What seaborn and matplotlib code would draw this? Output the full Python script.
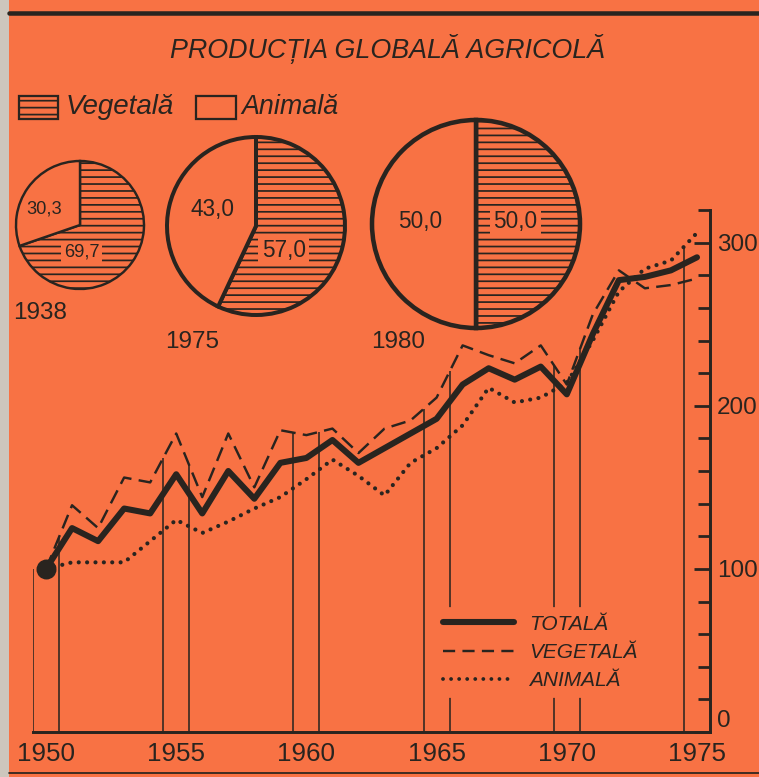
import numpy as np
import pandas as pd
import matplotlib
matplotlib.use("Agg")
import matplotlib.pyplot as plt
from matplotlib.lines import Line2D
from matplotlib.patches import Rectangle
from matplotlib.ticker import FixedLocator, MultipleLocator
import seaborn as sns

# Indici productie agricola (1950 = 100)
years = list(range(1950, 1976))
totala = [100, 125, 117, 137, 134, 158, 134, 160, 143, 165, 168, 179, 165,
          174, 183, 192, 213, 223, 216, 224, 207, 244, 277, 279, 283, 291]
vegetala = [100, 139, 125, 156, 153, 183, 144, 183, 150, 185, 182, 186, 171,
            186, 191, 205, 237, 231, 226, 237, 213, 256, 283, 272, 274, 278]
animala = [100, 104, 104, 104, 117, 130, 122, 129, 137, 144, 155, 167, 157,
           145, 165, 174, 188, 211, 202, 205, 214, 240, 270, 284, 289, 306]
series_names = ["TOTALĂ", "VEGETALĂ", "ANIMALĂ"]
labeled_years = [1950, 1955, 1960, 1965, 1970, 1975]
y_labels = [0, 100, 200, 300]

# Structura productiei (%)
pie_years = ["1938", "1975", "1980"]
pie_vegetala = [69.7, 57.0, 50.0]
pie_animala = [30.3, 43.0, 50.0]

bg = "#f87244"
ink = "#29241f"

sns.set_theme(style="white")
plt.rcParams["font.family"] = ["Liberation Sans", "DejaVu Sans"]
plt.rcParams["hatch.linewidth"] = 1.0

W, H, DPI = 759, 777, 125
fig = plt.figure(figsize=(W / DPI, H / DPI), dpi=DPI, facecolor=bg)


def px_box(x0, y0, x1, y1):
    # pixel box (origin top-left) -> figure fraction rect
    return [x0 / W, 1 - y1 / H, (x1 - x0) / W, (y1 - y0) / H]


def fx(x):
    return x / W


def fy(y):
    return 1 - y / H


# ---------------------------------------
# Line chart
# ---------------------------------------
df = pd.DataFrame({
    "an": years * 3,
    "indice": totala + vegetala + animala,
    "serie": np.repeat(series_names, len(years)),
})

ax = fig.add_axes(px_box(33, 210, 710, 732))
ax.patch.set_alpha(0)

sns.lineplot(data=df[df.serie == "TOTALĂ"], x="an", y="indice", ax=ax,
             color=ink, lw=3.5, solid_joinstyle="round", solid_capstyle="round",
             estimator=None, zorder=4)
sns.lineplot(data=df[df.serie == "VEGETALĂ"], x="an", y="indice", ax=ax,
             color=ink, lw=1.4, linestyle=(0, (6, 3)), estimator=None, zorder=3)
sns.lineplot(data=df[df.serie == "ANIMALĂ"], x="an", y="indice", ax=ax,
             color=ink, lw=2.4, linestyle=(0, (0.01, 2.0)),
             dash_capstyle="round", estimator=None, zorder=3)
ax.plot(years[0], totala[0], "o", ms=10.5, color=ink, zorder=5)

# tall lines bounding the labelled years
edges = []
for yr in labeled_years:
    edges.append(yr - 0.5)
    if yr != labeled_years[-1]:
        edges.append(yr + 0.5)
tops = [max(np.interp(e, years, s) for s in (totala, vegetala, animala)) for e in edges]
ax.vlines(edges, 0, tops, color=ink, lw=0.9, zorder=2)

ax.set_xlim(1949.5, 1975.5)
ax.set_ylim(0, 320)
ax.set_xlabel("")
ax.set_ylabel("")
for side in ["left", "top"]:
    ax.spines[side].set_visible(False)
for side in ["right", "bottom"]:
    ax.spines[side].set_color(ink)
    ax.spines[side].set_linewidth(1.7)

ax.yaxis.tick_right()
ax.yaxis.set_major_locator(FixedLocator(y_labels))
ax.yaxis.set_minor_locator(MultipleLocator(20))
ax.tick_params(axis="y", which="major", direction="in", length=9, width=1.6,
               colors=ink, labelsize=14, pad=4)
ax.tick_params(axis="y", which="minor", direction="in", length=7, width=1.6, colors=ink)
ax.yaxis.get_major_ticks()[0].label2.set_verticalalignment("bottom")

ax.xaxis.set_major_locator(FixedLocator(labeled_years))
ax.xaxis.set_minor_locator(MultipleLocator(1, offset=0.5))
ax.tick_params(axis="x", which="major", length=0, colors=ink, labelsize=15, pad=6)
ax.tick_params(axis="x", which="minor", direction="in", length=6, width=1.4, colors=ink)

handles = [
    Line2D([], [], color=ink, lw=3.5),
    Line2D([], [], color=ink, lw=1.4, linestyle=(0, (5, 3))),
    Line2D([], [], color=ink, lw=2.2, linestyle=(0, (0.01, 2.1)), dash_capstyle="round"),
]
leg = ax.legend(handles, series_names, loc="upper left",
                bbox_to_anchor=((426 - 33) / 677, (732 - 598) / 522),
                frameon=True, facecolor=bg, edgecolor=bg, framealpha=1,
                fancybox=False, handlelength=3.4, handletextpad=0.75,
                labelspacing=0.45, borderpad=0.3,
                prop={"style": "italic", "size": 12})
for t in leg.get_texts():
    t.set_color(ink)

# ---------------------------------------
# Pies
# ---------------------------------------
pie_geom = [(80, 225, 64, 1.4), (256, 226, 89, 2.3), (476, 224, 104, 2.6)]
label_pos = [((-0.56, 0.25), (0.03, -0.42)),
             ((-0.49, 0.18), (0.31, -0.27)),
             ((-0.54, 0.02), (0.38, 0.02))]
year_pos = [(40, 313), (192, 342), (398, 342)]

for i, (cx, cy, r, lw) in enumerate(pie_geom):
    half = r * 1.05
    pax = fig.add_axes(px_box(cx - half, cy - half, cx + half, cy + half))
    pax.pie([pie_vegetala[i], pie_animala[i]], startangle=90, counterclock=False,
            colors=[bg, bg], hatch=["---", ""],
            wedgeprops={"edgecolor": ink, "linewidth": lw})
    pax.set_xlim(-1.05, 1.05)
    pax.set_ylim(-1.05, 1.05)
    pax.set_aspect("equal")
    (ax_a, ay_a), (ax_v, ay_v) = label_pos[i]
    fs = 10.5 if i == 0 else 13
    pax.text(ax_a, ay_a, f"{pie_animala[i]:.1f}".replace(".", ","), ha="center",
             va="center", fontsize=fs, color=ink)
    pax.text(ax_v, ay_v, f"{pie_vegetala[i]:.1f}".replace(".", ","), ha="center",
             va="center", fontsize=fs, color=ink,
             bbox={"boxstyle": "square,pad=0.15", "fc": bg, "ec": "none"})
    fig.text(fx(year_pos[i][0]), fy(year_pos[i][1]), pie_years[i], ha="center",
             va="center", fontsize=14, color=ink)

# ---------------------------------------
# Title, legend of pies, frame
# ---------------------------------------
fig.text(fx(388), fy(49), "PRODUCȚIA GLOBALĂ AGRICOLĂ", ha="center", va="center",
         fontsize=15.5, style="italic", color=ink)

fig.patches.append(Rectangle((fx(19), fy(119)), (58 - 19) / W, 23 / H,
                             transform=fig.transFigure, facecolor=bg, edgecolor=ink,
                             lw=1.3, hatch="---"))
fig.text(fx(66), fy(107), "Vegetală", ha="left", va="center", fontsize=16,
         style="italic", color=ink)
fig.patches.append(Rectangle((fx(196), fy(119)), (236 - 196) / W, 23 / H,
                             transform=fig.transFigure, facecolor="none",
                             edgecolor=ink, lw=1.3))
fig.text(fx(241), fy(107), "Animală", ha="left", va="center", fontsize=15.5,
         style="italic", color=ink)

# scan border: gray paper strip, top rule, bottom rule
fig.patches.append(Rectangle((0, 0), fx(9), 1, transform=fig.transFigure,
                             facecolor="#cdc6bd", edgecolor="none"))
fig.lines.append(Line2D([fx(9), 1], [fy(13), fy(13)], transform=fig.transFigure,
                        color=ink, lw=2.6))
fig.lines.append(Line2D([fx(9), 1], [fy(773), fy(773)], transform=fig.transFigure,
                        color=ink, lw=1.0))

fig.savefig("out.png", dpi=DPI, facecolor=bg)
